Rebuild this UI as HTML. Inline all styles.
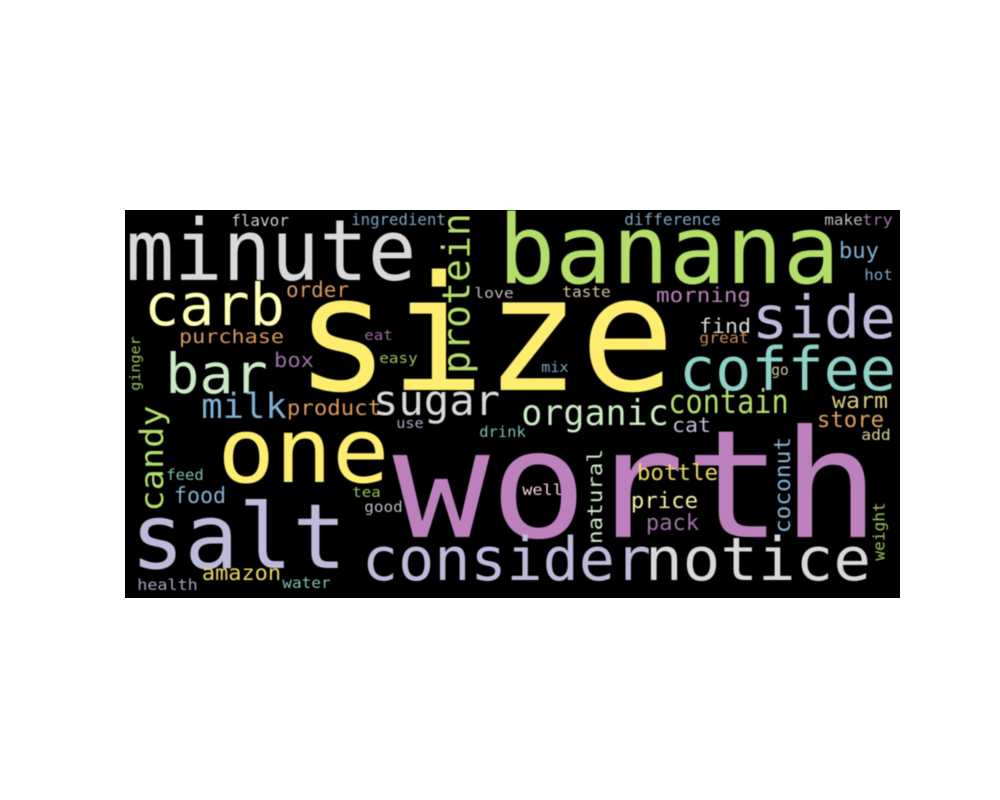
<!DOCTYPE html>
<html><head><meta charset="utf-8"><style>
html,body{margin:0;padding:0;background:#fff;}
svg{display:block;}
text{font-family:"DejaVu Sans Mono","Liberation Mono",monospace;}
</style></head><body>
<svg id="c" width="1000" height="800" viewBox="0 0 1000 800">
<defs><filter id="soft" x="-5%" y="-5%" width="110%" height="110%"><feGaussianBlur stdDeviation="0.6"/></filter></defs>
<rect x="125" y="210" width="775" height="388" fill="#000"/>
<g id="w" filter="url(#soft)"></g>
</svg>
<script>
// word, inkLeft, inkRight, baseline, fontSize, color  (horizontal)
const words = ["size","worth","banana","minute","one","salt","consider","notice","carb","bar","side","coffee","sugar","organic","milk","contain","protein","candy","order","purchase","product","box","morning","find","buy","amazon","food","bottle","price","pack","cat","store","warm","flavor","ingredient","difference","make","try","hot","taste","love","great","eat","easy","mix","go","use","drink","feed","tea","good","well","add","health","water"];
const lefts  = [303,400,503,130,222,135,365,648,147,168,755,682,375,523,203,670,0,0,287,180,288,275,657,700,840,203,175,638,632,647,673,818,833,232,352,625,825,863,865,563,475,700,365,380,542,772,397,480,167,353,365,523,862,138,283];
const rights = [667,872,835,412,385,342,648,868,282,265,893,893,498,667,285,787,0,0,348,283,380,313,750,750,878,280,225,717,697,698,710,883,887,288,445,720,862,892,892,610,513,748,392,417,568,788,423,525,203,380,402,562,890,197,330];
const bases  = [390,537,283,280,482,568,580,580,325,393,338,390,415,425,418,413,0,0,297,343,415,367,302,333,258,580,503,480,508,530,432,427,408,226,225,225,225,225,280,297,298,343,340,363,372,375,428,437,480,497,512,495,440,590,588];
const sizes  = [160,150,95,85,90,90,60,60,58,55,59,60,42,36,35,33,0,0,21,19,21,20,20,20,22,21,22,22,22,22,20,22,22,16,16,16,15,15,15,15,14,15,14,14,14,15,14,15,15,14,15,15,15,15,15];
const colors = ["#ffed6f","#bc80bd","#b3de69","#d9d9d9","#ffed6f","#bebada","#bebada","#d9d9d9","#ffffb3","#ccebc5","#bebada","#8dd3c7","#d9d9d9","#ccebc5","#80b1d3","#b3de69","","","#d9995a","#d9995a","#d9995a","#a070a8","#bc80bd","#d9d9d9","#80b1d3","#e8d85f","#80b1d3","#e8d85f","#f0f0a0","#a070a8","#bebada","#e0a060","#d8cc80","#cccccc","#7aa5c4","#7aa5c4","#bbbbbb","#a070a8","#7aa5c4","#cfc89a","#bbbbbb","#c88850","#9a6aa0","#9cc05c","#7aa5c4","#cfc89a","#a8a4c4","#7fbfb2","#7fbfb2","#9cc05c","#bbbbbb","#fccde5","#d8d0a0","#a8a4c4","#7fbfb2"];
// vertical words (read bottom-to-top)
const vWords  = ["protein","candy","ginger","natural","coconut","weight"];
const vRight  = [478,170,143,602,790,888];
const vBottom = [372,510,390,543,532,560];
const vTop    = [215,407,337,450,438,503];
const vSizes  = [38,32,14,20,22,16];
const vColors = ["#b3de69","#b3de69","#9cc05c","#ccebc5","#80b1d3","#9cc05c"];

const g = document.getElementById('w');
const NS = "http://www.w3.org/2000/svg";
words.forEach((w,i)=>{
  if(!sizes[i]) return;
  const t = document.createElementNS(NS,'text');
  
  
  const fs = sizes[i];
  t.setAttribute('x', lefts[i] - 0.05*fs);
  t.setAttribute('y', bases[i]);
  t.setAttribute('font-size', fs);
  t.setAttribute('fill', colors[i]);
  t.setAttribute('textLength', (rights[i]-lefts[i]) + 0.1*fs);
  t.setAttribute('lengthAdjust', 'spacingAndGlyphs');
  t.textContent = w;
  g.appendChild(t);
});
vWords.forEach((w,i)=>{
  const t = document.createElementNS(NS,'text');
  
  
  const fs = vSizes[i];
  const hasDesc = /[gpqy]/.test(w);
  const bx = vRight[i] - (hasDesc ? 0.22*fs : 0);
  const by = vBottom[i] + 0.05*fs;
  t.setAttribute('x', 0);
  t.setAttribute('y', 0);
  t.setAttribute('transform', 'translate(' + bx + ',' + by + ') rotate(-90)');
  t.setAttribute('font-size', fs);
  t.setAttribute('fill', vColors[i]);
  t.setAttribute('textLength', (vBottom[i]-vTop[i]) + 0.1*fs);
  t.setAttribute('lengthAdjust', 'spacingAndGlyphs');
  t.textContent = w;
  g.appendChild(t);
});
</script>
</body></html>
